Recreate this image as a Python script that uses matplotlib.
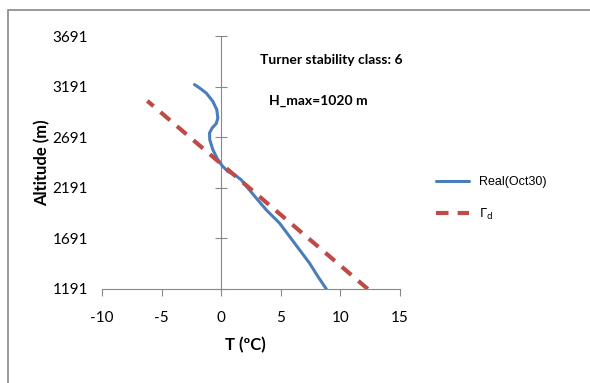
import matplotlib.pyplot as plt
from matplotlib.patches import Rectangle

# data
real_temp = [-2.24, -1.82, -1.26, -0.70, -0.37, -0.28, -0.42, -0.76, -0.98, -0.96,
             -0.70, -0.28, 0.08, 0.56, 1.12, 1.68, 2.24, 2.94, 3.78, 4.90,
             5.74, 6.58, 7.42, 8.12, 8.82]
real_alt = [3211, 3178, 3128, 3045, 2963, 2881, 2825, 2782, 2732, 2666,
            2567, 2468, 2409, 2352, 2320, 2270, 2188, 2089, 1973, 1841,
            1709, 1577, 1445, 1313, 1191]
dry_temp = [12.3, -6.2]
dry_alt = [1191, 3050]
yticks = [1191, 1691, 2191, 2691, 3191, 3691]
xticks = [-10, -5, 0, 5, 10, 15]

plt.rcParams['font.family'] = ['Lato', 'DejaVu Sans']
plt.rcParams['axes.unicode_minus'] = False

fig = plt.figure(figsize=(5.9, 3.83), dpi=100)
fig.patches.append(Rectangle((8 / 590, -0.1), 1.2, 1 - 10 / 383 + 0.1,
                             transform=fig.transFigure, fill=False,
                             edgecolor='#888888', linewidth=1.2))
ax = fig.add_axes([102 / 590, 1 - 289 / 383, 298 / 590, 253 / 383])

ax.plot(real_temp, real_alt, color='#4a7ebb', linewidth=2.2,
        solid_joinstyle='round', solid_capstyle='round', label='Real(Oct30)')
ax.plot(dry_temp, dry_alt, color='#be4b48', linewidth=3, dashes=(3, 2.2),
        label=r'$\Gamma_{\mathrm{d}}$')

ax.set_xlim(-10, 15)
ax.set_ylim(1191, 3691)
ax.set_xticks(xticks)
ax.set_yticks(yticks)

for s in ['top', 'right', 'left']:
    ax.spines[s].set_visible(False)
ax.spines['bottom'].set_color('#888888')
ax.tick_params(axis='x', direction='out', length=5, color='#888888',
               labelsize=11, pad=11)
ax.tick_params(axis='y', length=0, labelsize=11, pad=10)

# vertical axis line crossing at x = 0
sec = ax.secondary_yaxis(0.4)
sec.set_yticks(yticks)
sec.set_yticklabels([])
sec.spines['left'].set_color('#888888')
sec.tick_params(direction='inout', length=8, color='#888888')

ax.set_xlabel('T (ºC)', fontsize=12, fontweight='bold')
ax.xaxis.set_label_coords(0.48, -0.19)
ax.set_ylabel('Altitude (m)', fontsize=12, fontweight='bold')
ax.yaxis.set_label_coords(-0.172, 0.5)

ax.text(0.77, 0.905, 'Turner stability class: 6', transform=ax.transAxes,
        ha='center', va='center', fontsize=10, fontweight='bold')
ax.text(0.725, 0.745, 'H_max=1020 m', transform=ax.transAxes,
        ha='center', va='center', fontsize=10, fontweight='bold')

fig.legend(loc='center left', bbox_to_anchor=(425 / 590, 1 - 199 / 383),
           frameon=False, handlelength=2.6, labelspacing=1.5,
           prop={'family': 'Liberation Sans', 'size': 9})

fig.savefig('out.png', dpi=100)
